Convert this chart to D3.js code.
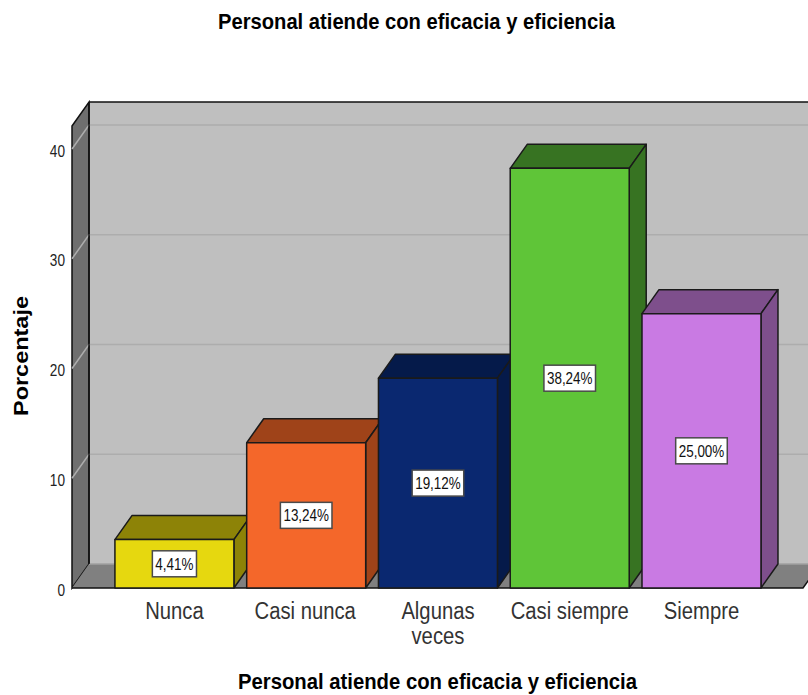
<!DOCTYPE html>
<html>
<head>
<meta charset="utf-8">
<script src="https://cdn.jsdelivr.net/npm/d3@7"></script>
<style>
  html, body { margin: 0; padding: 0; background: #fff; }
  svg { display: block; }
  text { font-family: "Liberation Sans", Arial, sans-serif; }
</style>
</head>
<body>
<svg id="chart" width="808" height="695"></svg>
<script>
const categories = ["Nunca", "Casi nunca", "Algunas veces", "Casi siempre", "Siempre"];
const percentages = [4.41, 13.24, 19.12, 38.24, 25.00];
const frontColors = ["#e6d80f", "#f4672a", "#0a2870", "#5fc538", "#c97ae3"];
const shadeColors = ["#8d8307", "#9f4319", "#051a4a", "#377322", "#7e4f8c"];
const yTicks = [0, 10, 20, 30, 40];
const chartTitle = "Personal atiende con eficacia y eficiencia";
const yTitle = "Porcentaje";

const svg = d3.select("#chart");

// Front plane of the 3-D box and the offset to its back plane
const front = { left: 72, right: 803, top: 126, bottom: 588 };
const depth = { x: 17, y: -24 };
const edge = "#111";

const y = d3.scaleLinear().domain([0, 42.1]).range([front.bottom, front.top]);
const x = d3.scaleBand()
  .domain(categories)
  .range([108.6, 767.3])
  .paddingInner(0.097)
  .paddingOuter(0.048);

const poly = pts => pts.map(p => p.join(",")).join(" ");

// Condense a text element horizontally by the given ratio
const condense = (sel, ratio) => sel.each(function () {
  const len = this.getComputedTextLength();
  d3.select(this).attr("textLength", len * ratio).attr("lengthAdjust", "spacingAndGlyphs");
});

// Back wall
svg.append("rect")
  .attr("x", front.left + depth.x).attr("y", front.top + depth.y)
  .attr("width", front.right - front.left).attr("height", front.bottom - front.top)
  .attr("fill", "#bfbfbf");
svg.append("line")
  .attr("x1", front.left + depth.x).attr("x2", front.right + depth.x)
  .attr("y1", front.top + depth.y).attr("y2", front.top + depth.y)
  .attr("stroke", edge).attr("stroke-width", 1.5);

// Side wall
svg.append("polygon")
  .attr("points", poly([
    [front.left, front.top],
    [front.left + depth.x, front.top + depth.y],
    [front.left + depth.x, front.bottom + depth.y],
    [front.left, front.bottom]
  ]))
  .attr("fill", "#6f6f6f").attr("stroke", edge).attr("stroke-width", 1.5);

// Floor
svg.append("polygon")
  .attr("points", poly([
    [front.left, front.bottom],
    [front.left + depth.x, front.bottom + depth.y],
    [front.right + depth.x, front.bottom + depth.y],
    [front.right, front.bottom]
  ]))
  .attr("fill", "#808080");
svg.append("line")
  .attr("x1", front.left + depth.x).attr("x2", front.right + depth.x)
  .attr("y1", front.bottom + depth.y).attr("y2", front.bottom + depth.y)
  .attr("stroke", "#a0a0a0").attr("stroke-width", 1.5);
svg.append("polyline")
  .attr("points", poly([
    [front.left, front.bottom],
    [front.right, front.bottom],
    [front.right + depth.x, front.bottom + depth.y]
  ]))
  .attr("fill", "none").attr("stroke", edge).attr("stroke-width", 1.5);

// Gridlines run across the back wall and down the side wall
const grid = svg.append("g").attr("fill", "none").attr("stroke", "#adadad").attr("stroke-width", 1.5);
yTicks.filter(t => t > 0).forEach(t => {
  grid.append("polyline").attr("points", poly([
    [front.left, y(t)],
    [front.left + depth.x, y(t) + depth.y],
    [front.right + depth.x, y(t) + depth.y]
  ]));
});

// Re-stroke the inner wall edge above the gridlines
svg.append("line")
  .attr("x1", front.left + depth.x).attr("x2", front.left + depth.x)
  .attr("y1", front.top + depth.y).attr("y2", front.bottom + depth.y)
  .attr("stroke", edge).attr("stroke-width", 1.5);

// Bars, painted left to right so each one overlaps its neighbour's side
const bars = svg.append("g").selectAll("g")
  .data(categories.map((c, i) => ({ c, v: percentages[i], i })))
  .join("g")
  .attr("stroke", "#1a1a1a").attr("stroke-width", 1.5).attr("stroke-linejoin", "round");

bars.append("polygon")
  .attr("fill", d => shadeColors[d.i])
  .attr("points", d => {
    const x0 = x(d.c), x1 = x0 + x.bandwidth(), yt = y(d.v);
    return poly([[x0, yt], [x0 + depth.x, yt + depth.y], [x1 + depth.x, yt + depth.y], [x1, yt]]);
  });
bars.append("polygon")
  .attr("fill", d => shadeColors[d.i])
  .attr("points", d => {
    const x1 = x(d.c) + x.bandwidth(), yt = y(d.v), yb = y(0);
    return poly([[x1, yt], [x1 + depth.x, yt + depth.y], [x1 + depth.x, yb + depth.y], [x1, yb]]);
  });
bars.append("rect")
  .attr("fill", d => frontColors[d.i])
  .attr("x", d => x(d.c)).attr("y", d => y(d.v))
  .attr("width", x.bandwidth()).attr("height", d => y(0) - y(d.v));

// Value labels in boxed tags centred on each bar's front face
const fmt = v => v.toFixed(2).replace(".", ",") + "%";
const tagRatio = 0.84;
const tags = svg.append("g").selectAll("g")
  .data(categories.map((c, i) => ({ c, v: percentages[i] })))
  .join("g")
  .attr("transform", d => `translate(${x(d.c) + x.bandwidth() / 2},${(y(d.v) + y(0)) / 2})`);
tags.each(function (d) {
  const g = d3.select(this);
  const box = g.append("rect")
    .attr("fill", "#fff").attr("stroke", "#4a4a4a").attr("stroke-width", 1.5);
  const label = g.append("text")
    .attr("text-anchor", "middle").attr("y", 6).attr("font-size", 16)
    .attr("fill", "#111").text(fmt(d.v));
  const w = label.node().getComputedTextLength() * tagRatio + 6;
  label.call(condense, tagRatio);
  box.attr("x", -w / 2).attr("y", -13).attr("width", w).attr("height", 26);
});

// Value axis, drawn on the front edge of the side wall
const yAxis = svg.append("g")
  .attr("transform", `translate(${front.left},0)`)
  .call(d3.axisLeft(y).tickValues(yTicks).tickSize(0).tickPadding(7));
yAxis.select(".domain").remove();
yAxis.selectAll("text")
  .attr("font-size", 16).attr("fill", "#222").attr("dy", "0.45em")
  .style("font-family", '"Liberation Sans", Arial, sans-serif')
  .call(condense, 0.85);

// Category labels, wrapped when they do not fit the band
svg.append("g").selectAll("g")
  .data(categories)
  .join("g")
  .each(function (d) {
    const lines = d === "Algunas veces" ? d.split(" ") : [d];
    lines.forEach((line, i) => {
      d3.select(this).append("text")
        .attr("text-anchor", "middle").attr("font-size", 23).attr("fill", "#333")
        .attr("x", x(d) + x.bandwidth() / 2 - (d === "Casi nunca" ? 1 : 0))
        .attr("y", 619 + i * 25)
        .text(line)
        .call(condense, 0.88);
    });
  });

// Titles
svg.append("text").attr("x", 416.5).attr("y", 29).attr("text-anchor", "middle")
  .attr("font-size", 22).attr("font-weight", "bold").attr("fill", "#000")
  .attr("textLength", 397).attr("lengthAdjust", "spacingAndGlyphs").text(chartTitle);
svg.append("text").attr("x", 437.5).attr("y", 689).attr("text-anchor", "middle")
  .attr("font-size", 22).attr("font-weight", "bold").attr("fill", "#000")
  .attr("textLength", 399).attr("lengthAdjust", "spacingAndGlyphs").text(chartTitle);
svg.append("text").attr("transform", "translate(28,356) rotate(-90)").attr("text-anchor", "middle")
  .attr("font-size", 21).attr("font-weight", "bold").attr("fill", "#000")
  .attr("textLength", 120).attr("lengthAdjust", "spacingAndGlyphs").text(yTitle);
</script>
</body>
</html>
